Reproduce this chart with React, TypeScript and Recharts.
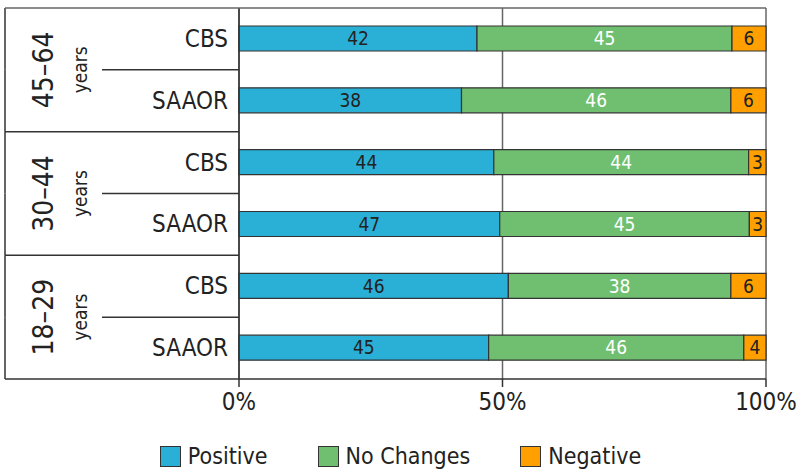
import React from "react";
import { BarChart, Bar, XAxis, YAxis, CartesianGrid, Legend, LabelList } from "recharts";

const groups = ["45–64", "45–64", "30–44", "30–44", "18–29", "18–29"];
const sources = ["CBS", "SAAOR", "CBS", "SAAOR", "CBS", "SAAOR"];
const positive = [42, 38, 44, 47, 46, 45];
const noChanges = [45, 46, 44, 45, 38, 46];
const negative = [6, 6, 3, 3, 6, 4];
const xTicks = [0, 0.5, 1];

const series = [
  { key: "positive", name: "Positive", color: "#2AB0D6", label: "#222" },
  { key: "noChanges", name: "No Changes", color: "#70BF70", label: "#fff" },
  { key: "negative", name: "Negative", color: "#FFA000", label: "#222" },
];

const data = sources.map((s, i) => ({
  row: `${groups[i]} ${s}`,
  group: groups[i],
  source: s,
  positive: positive[i],
  noChanges: noChanges[i],
  negative: negative[i],
}));

const FONT = "'Liberation Sans Narrow', 'DejaVu Sans Condensed', 'Roboto Condensed', 'Open Sans', sans-serif";
const W = 808;
const H = 469;
const FRAME_LEFT = 5;
const PLOT_LEFT = 239;
const PLOT_RIGHT = 766;
const PLOT_TOP = 8;
const PLOT_BOTTOM = 379;
const BAND = (PLOT_BOTTOM - PLOT_TOP) / data.length;
const LINE = "#333";

function RowTick(props: any) {
  const { y, index } = props;
  const d = data[index];
  const top = y - BAND / 2;
  const bottom = y + BAND / 2;
  const first = index % 2 === 0;
  return (
    <g>
      <line x1={FRAME_LEFT} x2={FRAME_LEFT} y1={top} y2={bottom} stroke={LINE} strokeWidth={1.5} />
      {first && (
        <line x1={FRAME_LEFT} x2={index === 0 ? PLOT_RIGHT : PLOT_LEFT} y1={top} y2={top} stroke={index === 0 ? "#666" : LINE} strokeWidth={1.5} />
      )}
      {index === data.length - 1 && (
        <line x1={FRAME_LEFT} x2={PLOT_LEFT} y1={bottom} y2={bottom} stroke={LINE} strokeWidth={1.5} />
      )}
      {first && (
        <>
          <line x1={102} x2={PLOT_LEFT} y1={bottom} y2={bottom} stroke={LINE} strokeWidth={1.5} />
          <text
            transform={`translate(43, ${bottom}) rotate(-90)`}
            textAnchor="middle"
            dominantBaseline="central"
            fontSize={28}
            fill="#222"
            fontFamily={FONT}
          >
            {d.group}
          </text>
          <text
            transform={`translate(80, ${bottom}) rotate(-90)`}
            textAnchor="middle"
            dominantBaseline="central"
            fontSize={19}
            fill="#222"
            fontFamily={FONT}
          >
            years
          </text>
        </>
      )}
      <text x={228} y={y} textAnchor="end" dominantBaseline="central" fontSize={24} fill="#222" fontFamily={FONT}>
        {d.source}
      </text>
    </g>
  );
}

function LegendContent() {
  return (
    <div
      style={{
        display: "flex",
        justifyContent: "center",
        gap: 50,
        fontFamily: FONT,
        fontSize: 23,
        color: "#222",
        height: 40,
        alignItems: "center",
        paddingLeft: 30,
        transform: "translateY(12px)",
      }}
    >
      {series.map((s) => (
        <div key={s.key} style={{ display: "flex", alignItems: "center", gap: 7 }}>
          <span style={{ width: 19, height: 19, background: s.color, border: "1.5px solid #333", display: "inline-block" }} />
          <span>{s.name}</span>
        </div>
      ))}
    </div>
  );
}

export default function App() {
  return (
    <div style={{ position: "absolute", left: 0, top: 0, width: W, height: H, background: "#fff" }}>
      <BarChart
        width={W}
        height={H}
        data={data}
        layout="vertical"
        stackOffset="expand"
        barSize={25}
        margin={{ top: PLOT_TOP, right: W - PLOT_RIGHT, bottom: 5, left: FRAME_LEFT }}
      >
        <CartesianGrid horizontal={false} stroke="#666" strokeWidth={1.5} />
        <XAxis
          type="number"
          domain={[0, 1]}
          ticks={xTicks}
          tickFormatter={(v: number) => `${Math.round(v * 100)}%`}
          axisLine={{ stroke: LINE, strokeWidth: 1.5 }}
          tickLine={{ stroke: LINE, strokeWidth: 1.5 }}
          tickSize={8}
          tickMargin={6}
          height={45}
          tick={{ fontSize: 24, fill: "#222", fontFamily: FONT }}
        />
        <YAxis
          type="category"
          dataKey="row"
          width={PLOT_LEFT - FRAME_LEFT}
          axisLine={{ stroke: LINE, strokeWidth: 1.5 }}
          tickLine={false}
          interval={0}
          tick={<RowTick />}
        />
        <Legend verticalAlign="bottom" content={<LegendContent />} />
        {series.map((s) => (
          <Bar
            key={s.key}
            dataKey={s.key}
            name={s.name}
            stackId="a"
            fill={s.color}
            stroke={LINE}
            strokeWidth={1.2}
            isAnimationActive={false}
          >
            <LabelList dataKey={s.key} position="center" fill={s.label} fontSize={19} fontFamily={FONT} />
          </Bar>
        ))}
      </BarChart>
    </div>
  );
}
